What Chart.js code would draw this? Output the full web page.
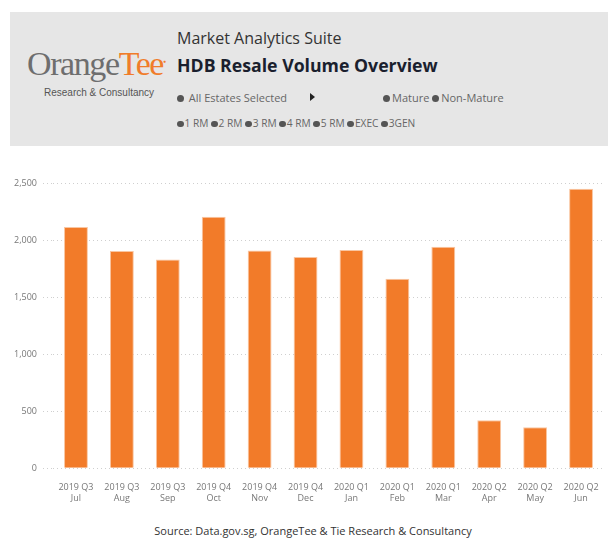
<!DOCTYPE html>
<html>
<head>
<meta charset="utf-8">
<script src="https://cdn.jsdelivr.net/npm/chart.js@4"></script>
<style>
  body { margin: 0; width: 608px; height: 538px; background: #fff; position: relative; overflow: hidden; font-family: "Open Sans", sans-serif; }
  .header { position: absolute; left: 10px; top: 12px; width: 598px; height: 134px; background: #e6e6e6; }
  .logo { position: absolute; left: 17px; top: 35px; font-family: "Liberation Serif", serif; font-size: 34px; color: #6e6e6e; letter-spacing: -1.4px; line-height: 1; }
  .logo span { color: #f07c2a; }
  .logo sup { font-size: 5px; color: #f07c2a; letter-spacing: 0; }
  .tag { position: absolute; left: 34px; top: 75px; font-family: "Liberation Sans", Arial, sans-serif; font-size: 10px; color: #555; }
  .suite { position: absolute; left: 167px; top: 15px; font-size: 16px; color: #333; }
  .title { position: absolute; left: 167px; top: 41px; font-size: 17.7px; font-weight: bold; color: #1a1f2e; }
  .row { position: absolute; left: 167px; font-size: 11px; color: #666; white-space: nowrap; }
  .row i { display: inline-block; width: 7px; height: 7px; border-radius: 50%; background: #555; margin-right: 2px; vertical-align: 0px; }
  .row.small { font-size: 10.2px; }
  .row.small i { width: 6.5px; height: 6.5px; margin-right: 1px; }
  .tri { position: absolute; left: 300px; top: 81px; width: 0; height: 0; border-top: 4px solid transparent; border-bottom: 4px solid transparent; border-left: 5px solid #222; }
  .chart { position: absolute; left: 0; top: 160px; width: 608px; height: 350px; }
  .source { position: absolute; left: 0; width: 626px; top: 523px; text-align: center; font-size: 11px; color: #333; }
</style>
</head>
<body>
<div class="header">
  <div class="logo">Orange<span>Tee</span><sup>&#9679;</sup></div>
  <div class="tag">Research &amp; Consultancy</div>
  <div class="suite">Market Analytics Suite</div>
  <div class="title">HDB Resale Volume Overview</div>
  <div class="row" style="top:78px"><i></i> All Estates Selected</div>
  <div class="tri"></div>
  <div class="row" style="top:78px; left:373px"><i></i>Mature <i></i>Non-Mature</div>
  <div class="row small" style="top:104px"><i></i>1 RM <i></i>2 RM <i></i>3 RM <i></i>4 RM <i></i>5 RM <i></i>EXEC <i></i>3GEN</div>
</div>
<div class="chart"><canvas id="volumeChart"></canvas></div>
<div class="source">Source: Data.gov.sg, OrangeTee &amp; Tie Research &amp; Consultancy</div>
<script>
const quarters = ["2019 Q3", "2019 Q3", "2019 Q3", "2019 Q4", "2019 Q4", "2019 Q4", "2020 Q1", "2020 Q1", "2020 Q1", "2020 Q2", "2020 Q2", "2020 Q2"];
const months = ["Jul", "Aug", "Sep", "Oct", "Nov", "Dec", "Jan", "Feb", "Mar", "Apr", "May", "Jun"];
const volumes = [2114, 1904, 1830, 2204, 1909, 1851, 1912, 1660, 1941, 421, 360, 2450];
const yTicks = [0, 500, 1000, 1500, 2000, 2500];

document.addEventListener("DOMContentLoaded", function () {
    const ctx = document.getElementById("volumeChart").getContext("2d");

    new Chart(ctx, {
        type: "bar",
        data: {
            labels: quarters.map((q, i) => [q, months[i]]),
            datasets: [{
                label: "Resale Volume",
                data: volumes,
                backgroundColor: "#f27b29",
                borderColor: "#f9c6a2",
                borderWidth: 1,
                barPercentage: 0.52,
                categoryPercentage: 1
            }]
        },
        options: {
            responsive: true,
            maintainAspectRatio: false,
            animation: false,
            layout: { padding: { top: 23, right: 4, left: 0, bottom: 0 } },
            scales: {
                x: {
                    grid: { display: false },
                    border: { display: false },
                    ticks: { color: "#777", font: { family: "Open Sans", size: 9 }, padding: 6, maxRotation: 0, autoSkip: false },
                    afterFit: function (scale) { scale.height = 41.7; }
                },
                y: {
                    min: 0,
                    max: 2500,
                    afterBuildTicks: function (scale) { scale.ticks = yTicks.map(v => ({ value: v })); },
                    border: { display: false, dash: [1, 3] },
                    grid: { color: "#cfcfcf", tickBorderDash: [1, 3], tickLength: 10, tickColor: "#cfcfcf" },
                    ticks: {
                        color: "#777",
                        font: { family: "Open Sans", size: 9 },
                        padding: 6,
                        callback: function (value) { return value.toLocaleString("en-US"); }
                    },
                    afterFit: function (scale) { scale.width = 53; }
                }
            },
            plugins: {
                legend: { display: false },
                tooltip: { enabled: false }
            }
        }
    });
});
</script>
</body>
</html>
